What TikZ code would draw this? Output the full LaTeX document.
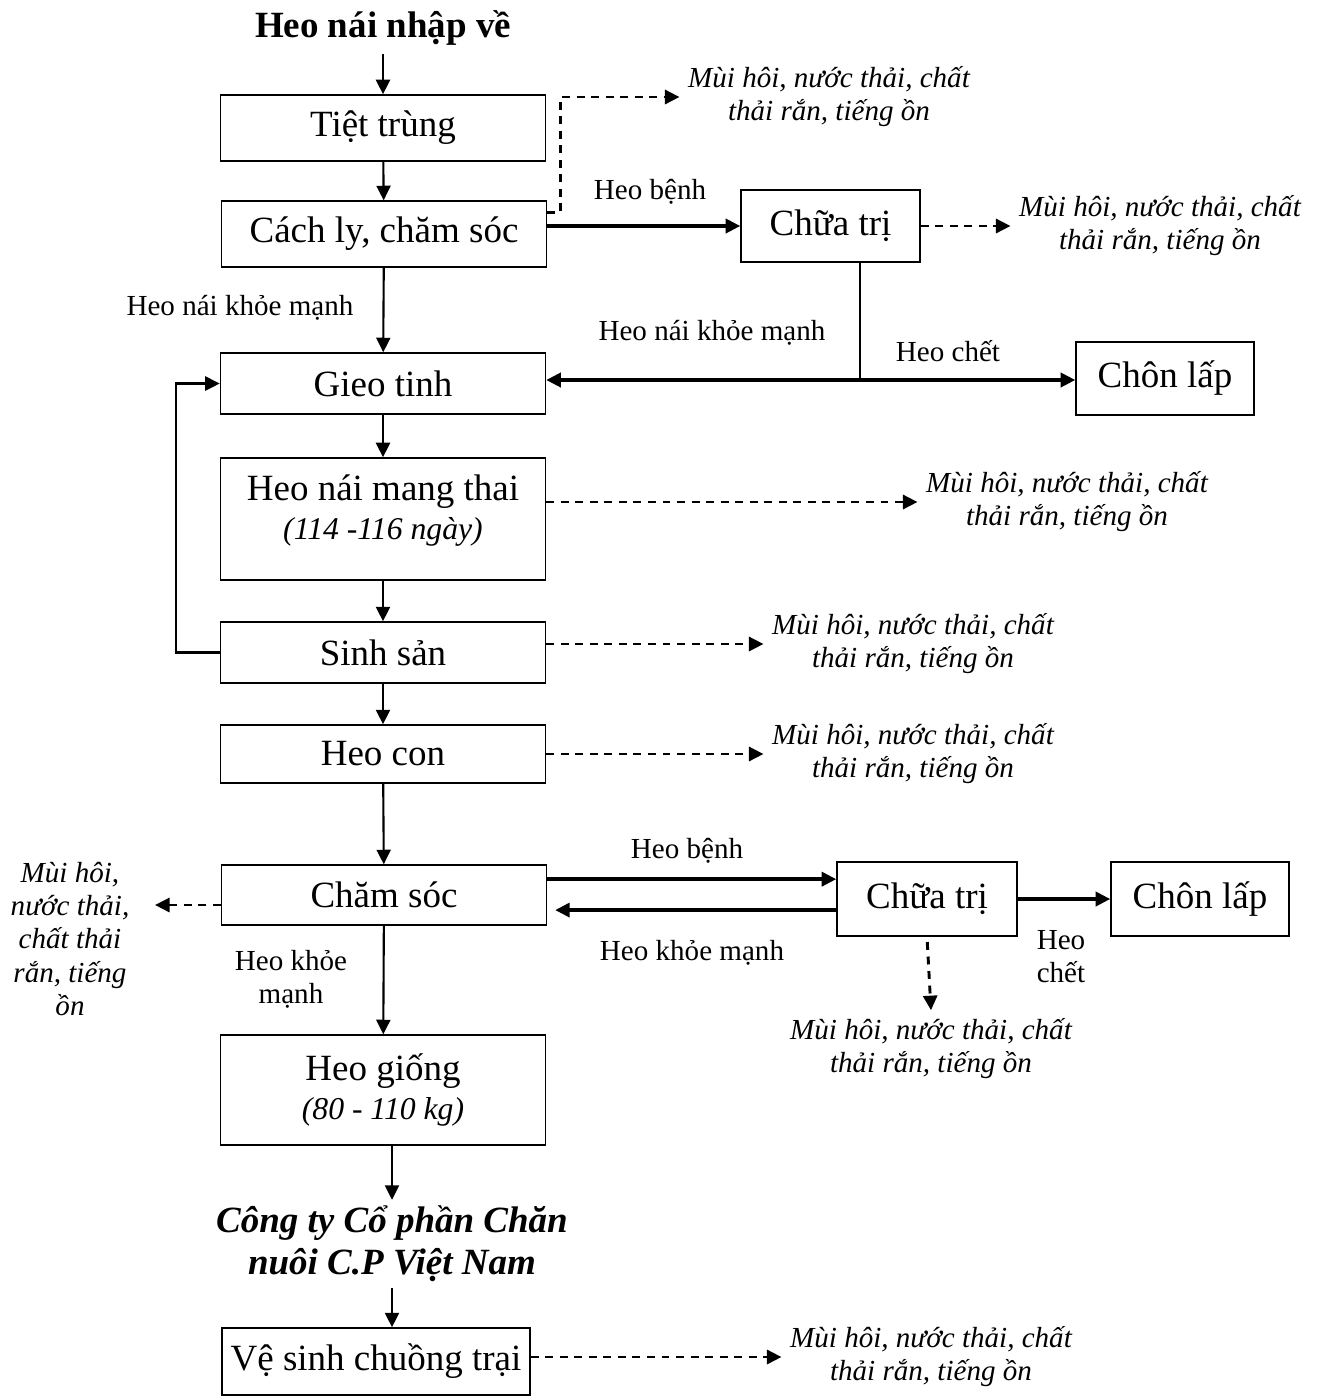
\documentclass[tikz,border=0pt]{standalone}
\usepackage{fontspec}
\setmainfont{Liberation Serif}
\usetikzlibrary{arrows.meta}
\def\pu{0.3784pt}

\begin{document}
\begin{tikzpicture}[x = \pu, y = -\pu, line width = 0.55pt,
                        box/.style = {draw, align = center, inner sep = 0pt, minimum width = 325*\pu, font = \fontsize{14}{15}\selectfont},
                        note/.style = {align = center, inner sep = 3pt, font = \fontsize{11}{12.5}\selectfont\itshape},
                        lbl/.style = {align = center, inner sep = 0pt, font = \fontsize{11}{12.5}\selectfont},
                        go/.style = {-{Triangle[length = 5.5pt, width = 5.3pt]}, line width = 0.8pt},
                        big/.style = {go, line width = 1.3pt},
                        waste/.style = {-{Triangle[length = 5.5pt, width = 5.3pt]}, line width = 1.1pt, dash pattern = on 3pt off 2.5pt}]
      \useasboundingbox (0, 0) rectangle (1317, 1396);
      \node [font = \fontsize{14}{16}\selectfont\bfseries, inner sep = 3pt] (t0) at (383, 28){Heo nái nhập về};
      \node [box, minimum height = 66*\pu] (p1) at (383, 128){Tiệt trùng};
      \node [box, minimum height = 66*\pu] (p2) at (384, 234){Cách ly, chăm sóc};
      \node [box, minimum height = 61*\pu] (p3) at (383, 383.5){Gieo tinh};
      \node [box, minimum height = 122*\pu] (p4) at (383, 519){Heo nái mang thai\\{\fontsize{12}{14}\selectfont\itshape (114 -116 ngày)}\\[-6pt]};
      \node [box, minimum height = 61*\pu] (p5) at (383, 652.5){Sinh sản};
      \node [box, minimum height = 58*\pu] (p6) at (383, 754){Heo con};
      \node [box, minimum height = 60*\pu] (p7) at (384, 895){Chăm sóc};
      \node [box, minimum height = 110*\pu] (p8) at (383, 1090){Heo giống\\{\fontsize{12}{14}\selectfont\itshape (80 - 110 kg)}};
      \node [font = \fontsize{14}{16}\selectfont\bfseries\itshape, align = center, inner sep = 2pt] (t1) at (392, 1244){Công ty Cổ phần Chăn\\nuôi C.P Việt Nam};
      \node [box, minimum width = 308*\pu, minimum height = 67*\pu] (p9) at (376, 1361.5){Vệ sinh chuồng trại};
      \node [box, minimum width = 179*\pu, minimum height = 72*\pu] (q1) at (830.5, 226){Chữa trị};
      \node [box, minimum width = 178*\pu, minimum height = 73*\pu] (q2) at (1165, 378.5){Chôn lấp};
      \node [box, minimum width = 180*\pu, minimum height = 74*\pu] (q3) at (927, 899){Chữa trị};
      \node [box, minimum width = 178*\pu, minimum height = 74*\pu] (q4) at (1200, 899){Chôn lấp};
      \node [note] (e1) at (829, 97){Mùi hôi, nước thải, chất\\thải rắn, tiếng ồn};
      \node [note] (e2) at (1160, 226){Mùi hôi, nước thải, chất\\thải rắn, tiếng ồn};
      \node [note] (e3) at (1067, 502){Mùi hôi, nước thải, chất\\thải rắn, tiếng ồn};
      \node [note] (e4) at (913, 644){Mùi hôi, nước thải, chất\\thải rắn, tiếng ồn};
      \node [note] (e5) at (913, 754){Mùi hôi, nước thải, chất\\thải rắn, tiếng ồn};
      \node [note] (e6) at (70, 939){Mùi hôi,\\nước thải,\\chất thải\\rắn, tiếng\\ồn};
      \node [note] (e7) at (931, 1049){Mùi hôi, nước thải, chất\\thải rắn, tiếng ồn};
      \node [note] (e8) at (931, 1357){Mùi hôi, nước thải, chất\\thải rắn, tiếng ồn};
      \node [lbl] at (240, 308){Heo nái khỏe mạnh};
      \node [lbl] at (650, 192){Heo bệnh};
      \node [lbl] at (712, 333){Heo nái khỏe mạnh};
      \node [lbl] at (948, 351){Heo chết};
      \node [lbl] at (687, 851){Heo bệnh};
      \node [lbl] at (692, 953){Heo khỏe mạnh};
      \node [lbl] at (1061, 957){Heo\\chết};
      \node [lbl] at (291, 979){Heo khỏe\\mạnh};
      \coordinate (j1) at (860, 380);
      \coordinate (c1) at (155, 905);
      \draw [go] (t0.south) -- (p1.north);
      \draw [go] (p1) -- (p2);
      \draw [go] (p2) -- (p3);
      \draw [go] (p3) -- (p4);
      \draw [go] (p4) -- (p5);
      \draw [go] (p5) -- (p6);
      \draw [go] (p6) -- (p7);
      \draw [go] (p7) -- (p8);
      \draw [go] (t1.north |- p8.south) -- (t1.north);
      \draw [go] (t1.south) -- (t1.south |- p9.north);
      \draw [go] (p5.west) -- ++(-44, 0) |- (p3.west);
      \draw [big] (p2.east |- q1.west) -- (q1.west);
      \draw (j1 |- q1.south) -- (j1);
      \draw [big] (j1) -- (j1 -| p3.east);
      \draw [big] (j1) -- (j1 -| q2.west);
      \draw [big] ([yshift = 6pt]p7.east) -- ([yshift = 6pt]p7.east -| q3.west);
      \draw [big, shorten > = 3pt] ([yshift = -5.7pt]p7.east -| q3.west) -- ([yshift = -5.7pt]p7.east);
      \draw [big] (q3) -- (q4);
      \draw [waste] ([yshift = 8pt]p2.east) -- ++(13, 0) |- (e1.west);
      \draw [waste] (q1) -- (e2);
      \draw [waste] (p4.east |- e3.west) -- (e3.west);
      \draw [waste] (p5.east |- e4.west) -- (e4.west);
      \draw [waste] (p6.east |- e5.west) -- (e5.west);
      \draw [waste] (p7.west |- c1) -- (c1);
      \draw [waste, shorten < = 2pt] (q3.south) -- (e7.north);
      \draw [waste] (p9.east |- e8.west) -- (e8.west);
    \end{tikzpicture}
\end{document}
